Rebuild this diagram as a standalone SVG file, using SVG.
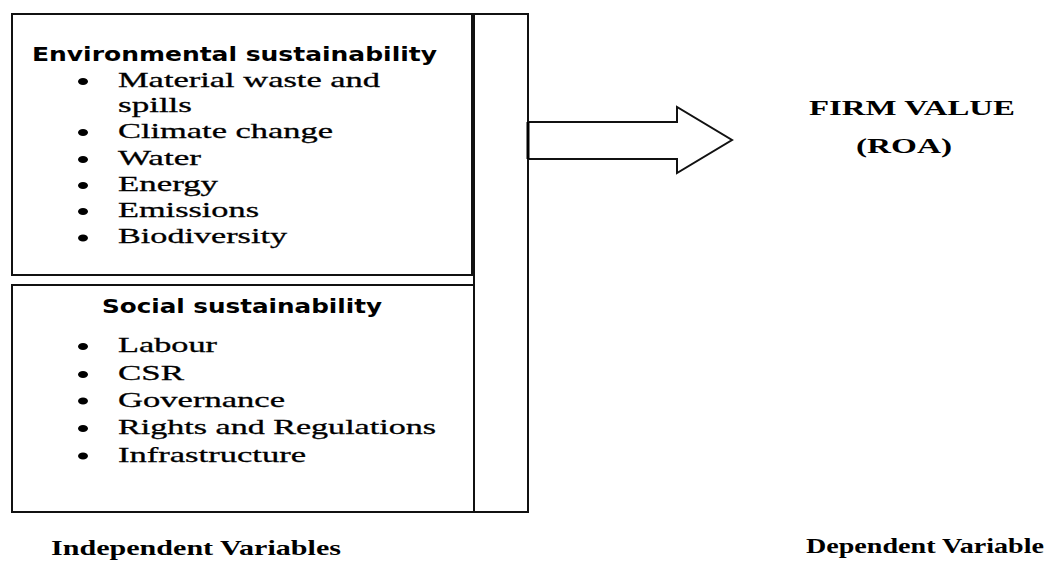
<svg xmlns="http://www.w3.org/2000/svg" width="1051" height="561" viewBox="0 0 1051 561">
  <style>
    .frame { fill: #ffffff; stroke: #111111; stroke-width: 2; }
    .head { font-family: "DejaVu Sans", "Liberation Sans", sans-serif; font-weight: bold; font-size: 19px; fill: #000; }
    .item { font-family: "Liberation Serif", "Times New Roman", serif; font-size: 22px; fill: #000; stroke: #000; stroke-width: 0.3; }
    .strong { font-family: "Liberation Serif", "Times New Roman", serif; font-weight: bold; font-size: 21px; fill: #000; }
    .dot { fill: #000; }
  </style>
  <rect width="1051" height="561" fill="#ffffff"/>

  <!-- Right-hand column joining both variable groups -->
  <g id="column">
    <rect class="frame" x="474" y="14" width="54" height="498"/>
  </g>

  <!-- Environmental sustainability group -->
  <g id="environmental">
    <rect class="frame" x="12" y="14" width="460" height="261"/>
    <text class="head" x="32" y="61" textLength="405" lengthAdjust="spacingAndGlyphs">Environmental sustainability</text>
    <ellipse class="dot" cx="83" cy="81.5" rx="5" ry="3.5"/>
    <text class="item" x="118" y="86.7" textLength="262" lengthAdjust="spacingAndGlyphs">Material waste and</text>
    <text class="item" x="118" y="112" textLength="74" lengthAdjust="spacingAndGlyphs">spills</text>
    <ellipse class="dot" cx="83" cy="132.5" rx="5" ry="3.5"/>
    <text class="item" x="118" y="137.7" textLength="215" lengthAdjust="spacingAndGlyphs">Climate change</text>
    <ellipse class="dot" cx="83" cy="159.5" rx="5" ry="3.5"/>
    <text class="item" x="118" y="165" textLength="83" lengthAdjust="spacingAndGlyphs">Water</text>
    <ellipse class="dot" cx="83" cy="185.5" rx="5" ry="3.5"/>
    <text class="item" x="118" y="190.7" textLength="100" lengthAdjust="spacingAndGlyphs">Energy</text>
    <ellipse class="dot" cx="83" cy="211.5" rx="5" ry="3.5"/>
    <text class="item" x="118" y="216.7" textLength="141" lengthAdjust="spacingAndGlyphs">Emissions</text>
    <ellipse class="dot" cx="83" cy="238" rx="5" ry="3.5"/>
    <text class="item" x="118" y="243.3" textLength="169" lengthAdjust="spacingAndGlyphs">Biodiversity</text>
  </g>

  <!-- Social sustainability group -->
  <g id="social">
    <rect class="frame" x="12" y="285" width="462" height="227"/>
    <text class="head" x="102" y="312.7" textLength="280" lengthAdjust="spacingAndGlyphs">Social sustainability</text>
    <ellipse class="dot" cx="83" cy="346.5" rx="5" ry="3.5"/>
    <text class="item" x="118" y="351.8" textLength="99" lengthAdjust="spacingAndGlyphs">Labour</text>
    <ellipse class="dot" cx="83" cy="374.5" rx="5" ry="3.5"/>
    <text class="item" x="118" y="380" textLength="66" lengthAdjust="spacingAndGlyphs">CSR</text>
    <ellipse class="dot" cx="83" cy="401" rx="5" ry="3.5"/>
    <text class="item" x="118" y="406.8" textLength="167" lengthAdjust="spacingAndGlyphs">Governance</text>
    <ellipse class="dot" cx="83" cy="428.5" rx="5" ry="3.5"/>
    <text class="item" x="118" y="434.2" textLength="318" lengthAdjust="spacingAndGlyphs">Rights and Regulations</text>
    <ellipse class="dot" cx="83" cy="456" rx="5" ry="3.5"/>
    <text class="item" x="118" y="461.9" textLength="188" lengthAdjust="spacingAndGlyphs">Infrastructure</text>
  </g>

  <!-- Dependent variable -->
  <g id="firm-value">
    <text class="strong" x="809" y="115" textLength="206" lengthAdjust="spacingAndGlyphs">FIRM VALUE</text>
    <text class="strong" x="856" y="153" textLength="96" lengthAdjust="spacingAndGlyphs">(ROA)</text>
  </g>

  <!-- Connectors -->
  <g id="connectors">
    <polygon points="528,122 677,122 677,107 732,140 677,173 677,159 528,159" fill="#ffffff" stroke="#111111" stroke-width="2" stroke-linejoin="miter"/>
    <line x1="528" y1="122" x2="528" y2="159" stroke="#000" stroke-width="3"/>
  </g>

  <!-- Captions -->
  <g id="captions">
    <text class="strong" x="51" y="555" font-size="18" textLength="290" lengthAdjust="spacingAndGlyphs">Independent Variables</text>
    <text class="strong" x="806" y="553" font-size="18" textLength="238" lengthAdjust="spacingAndGlyphs">Dependent Variable</text>
  </g>
</svg>
